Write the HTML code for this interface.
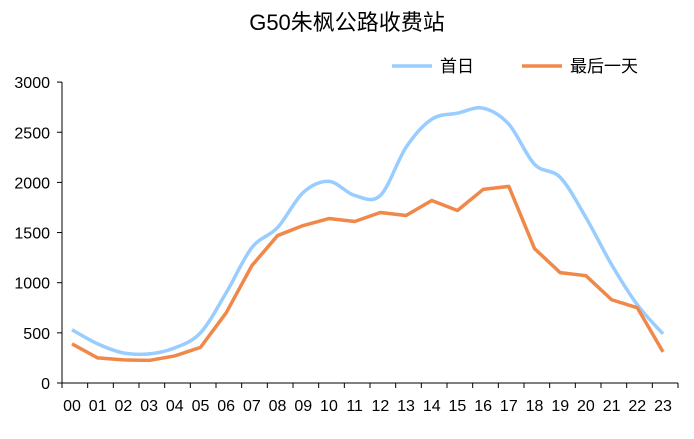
<!DOCTYPE html>
<html><head><meta charset="utf-8"><style>
body{margin:0;background:#fff;}
svg text{font-family:"Liberation Sans","Noto Sans CJK SC",sans-serif;fill:#000;}
</style></head><body>
<svg id="s" width="694" height="434" xmlns="http://www.w3.org/2000/svg">
<text x="347" y="30" font-size="22" text-anchor="middle">G50朱枫公路收费站</text>
<line x1="392" y1="66" x2="432" y2="66" stroke="#99CCFF" stroke-width="3.5"/>
<text x="440" y="72" font-size="17">首日</text>
<line x1="522" y1="66" x2="562" y2="66" stroke="#F0884A" stroke-width="3.5"/>
<text x="570" y="72" font-size="17">最后一天</text>
</svg>
<script>
var s=document.getElementById('s'),NS='http://www.w3.org/2000/svg';
function el(t,a,txt){var e=document.createElementNS(NS,t);for(var k in a)e.setAttribute(k,a[k]);if(txt!=null)e.textContent=txt;s.appendChild(e);return e;}
var y0=383,py=100.3/1000,x0=72,dx=(663-72)/23;
function Y(v){return y0-v*py;}function X(i){return x0+i*dx;}
el('line',{x1:62,y1:y0,x2:62,y2:82,stroke:'#000','stroke-width':1});
el('line',{x1:62,y1:y0,x2:678,y2:y0,stroke:'#000','stroke-width':1});
for(var v=0;v<=3000;v+=500){el('line',{x1:57,y1:Y(v),x2:62,y2:Y(v),stroke:'#000'});el('text',{x:50,y:Y(v)+6,'font-size':16,'text-anchor':'end'},v);}
for(var i=0;i<24;i++){var xe=62+(i+1)*(616/24);el('line',{x1:62+i*(616/24),y1:y0,x2:62+i*(616/24),y2:y0+5,stroke:'#000'});el('text',{x:X(i),y:411,'font-size':16,'text-anchor':'middle'},(i<10?'0':'')+i);}
el('line',{x1:678,y1:y0,x2:678,y2:y0+5,stroke:'#000'});
var b=[530,390,300,290,350,500,900,1350,1550,1900,2010,1870,1870,2350,2630,2690,2740,2580,2180,2050,1650,1180,780,490];
var o=[390,250,230,225,270,355,700,1170,1470,1570,1640,1610,1700,1670,1820,1720,1930,1960,1340,1100,1070,830,750,310];
var p=b.map(function(v,i){return[X(i),Y(v)]});var d='M'+p[0];
for(var i=0;i<p.length-1;i++){var a=p[Math.max(i-1,0)],c=p[i],n=p[i+1],m=p[Math.min(i+2,p.length-1)];
d+=' C'+(c[0]+(n[0]-a[0])/6)+','+(c[1]+(n[1]-a[1])/6)+' '+(n[0]-(m[0]-c[0])/6)+','+(n[1]-(m[1]-c[1])/6)+' '+n;}
el('path',{d:d,fill:'none',stroke:'#99CCFF','stroke-width':3.5});
el('polyline',{points:o.map(function(v,i){return X(i)+','+Y(v)}).join(' '),fill:'none',stroke:'#F0884A','stroke-width':3.5,'stroke-linejoin':'round'});
</script>
</body></html>
